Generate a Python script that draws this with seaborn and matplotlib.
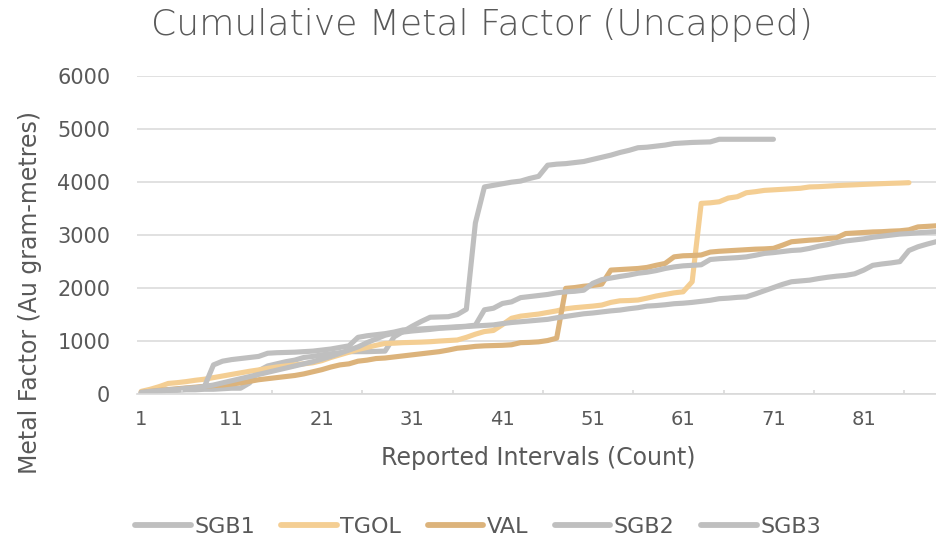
import matplotlib
matplotlib.use('Agg')
import matplotlib.pyplot as plt
import matplotlib.transforms as mtransforms
from matplotlib.lines import Line2D
import numpy as np
import pandas as pd
import seaborn as sns

# ── Data (cumulative metal factor per reported interval) ─────────────────────
series_names = ['SGB1', 'TGOL', 'VAL', 'SGB2', 'SGB3']

sgb1 = [20, 40, 50, 60, 60, 70, 70, 80, 80, 90,
        100, 100, 200, 430, 520, 560, 600, 630, 680, 700,
        730, 750, 770, 790, 790, 790, 795, 800, 1070, 1170,
        1270, 1360, 1440, 1445, 1450, 1490, 1590, 3220, 3900, 3930,
        3960, 3990, 4010, 4060, 4100, 4310, 4330, 4340, 4360, 4380,
        4420, 4460, 4500, 4550, 4590, 4640, 4650, 4670, 4690, 4720,
        4730, 4740, 4745, 4750, 4800, 4800, 4800, 4800, 4800, 4800,
        4800]

tgol = [40, 80, 130, 190, 205, 225, 250, 270, 300, 330,
        360, 390, 420, 445, 475, 500, 520, 540, 560, 580,
        620, 680, 730, 780, 830, 870, 910, 945, 950, 960,
        965, 970, 978, 990, 1000, 1010, 1060, 1120, 1170, 1190,
        1300, 1420, 1460, 1480, 1500, 1530, 1560, 1600, 1620, 1635,
        1650, 1670, 1720, 1750, 1755, 1765, 1800, 1840, 1870, 1900,
        1920, 2110, 3590, 3600, 3620, 3690, 3715, 3790, 3810, 3835,
        3845, 3855, 3865, 3875, 3900, 3905, 3915, 3925, 3933, 3940,
        3948, 3955, 3962, 3968, 3973, 3980]

val = [20, 40, 60, 75, 90, 105, 120, 135, 150, 160,
       180, 200, 230, 260, 280, 300, 320, 340, 370, 410,
       450, 500, 540, 560, 610, 630, 660, 670, 690, 710,
       730, 750, 770, 790, 820, 855, 870, 890, 900, 905,
       910, 920, 960, 965, 975, 1000, 1045, 1985, 2000, 2025,
       2040, 2065, 2330, 2340, 2350, 2360, 2380, 2420, 2455, 2580,
       2600, 2605, 2615, 2670, 2685, 2695, 2705, 2715, 2725, 2730,
       2740, 2800, 2865, 2880, 2895, 2905, 2925, 2940, 3020, 3030,
       3040, 3050, 3055, 3065, 3072, 3090, 3145, 3155, 3166, 3175]

sgb2 = [10, 30, 50, 70, 80, 100, 110, 130, 540, 610,
        640, 660, 680, 700, 760, 770, 775, 780, 790, 800,
        820, 840, 870, 900, 1060, 1090, 1110, 1130, 1160, 1200,
        1210, 1220, 1230, 1240, 1250, 1260, 1270, 1290, 1580, 1610,
        1700, 1730, 1810, 1830, 1850, 1870, 1900, 1920, 1930, 1950,
        2080, 2150, 2180, 2210, 2236, 2270, 2290, 2320, 2360, 2390,
        2410, 2420, 2430, 2530, 2545, 2555, 2565, 2580, 2610, 2645,
        2660, 2680, 2700, 2710, 2740, 2780, 2810, 2850, 2880, 2900,
        2920, 2950, 2970, 2990, 3010, 3020, 3035, 3045, 3055, 3065]

sgb3 = [20, 40, 50, 60, 70, 80, 100, 130, 160, 200,
        240, 280, 320, 360, 400, 440, 480, 520, 560, 600,
        650, 700, 760, 820, 880, 960, 1030, 1100, 1140, 1160,
        1180, 1195, 1210, 1230, 1240, 1250, 1265, 1275, 1285, 1295,
        1320, 1340, 1355, 1370, 1385, 1400, 1430, 1455, 1480, 1505,
        1520, 1540, 1560, 1575, 1600, 1620, 1650, 1660, 1675, 1695,
        1705, 1720, 1740, 1760, 1790, 1800, 1815, 1825, 1880, 1940,
        2000, 2060, 2110, 2125, 2140, 2170, 2195, 2215, 2230, 2260,
        2330, 2420, 2445, 2465, 2490, 2700, 2770, 2820, 2865, 2900]

x_tick_labels = ['1', '11', '21', '31', '41', '51', '61', '71', '81']
y_ticks = [0, 1000, 2000, 3000, 4000, 5000, 6000]

colors = {'SGB1': '#BFBFBF', 'TGOL': '#F4CE93', 'VAL': '#DCB37B',
          'SGB2': '#BFBFBF', 'SGB3': '#BFBFBF'}

# ── Long-form table for seaborn ──────────────────────────────────────────────
frames = []
for name, vals in zip(series_names, [sgb1, tgol, val, sgb2, sgb3]):
    frames.append(pd.DataFrame({'series': name,
                                'interval': np.arange(1, len(vals) + 1),
                                'metal': vals}))
df = pd.concat(frames, ignore_index=True)

# ── Plot ─────────────────────────────────────────────────────────────────────
sns.set_theme(style='white')
plt.rcParams['font.family'] = ['DejaVu Sans']
TXT = '#595959'

fig = plt.figure(figsize=(9.36, 5.39), dpi=100)
ax = fig.add_axes([136.7 / 936, 1 - 393.5 / 539, 1 - 136.7 / 936, (393.5 - 75.7) / 539])

sns.lineplot(data=df, x='interval', y='metal', hue='series', hue_order=series_names,
             palette=colors, linewidth=3.7, ax=ax, legend=False,
             solid_capstyle='round', solid_joinstyle='round')

ax.set_xlim(0.5, 89.0)
ax.set_ylim(0, 6000)
ax.set_yticks(y_ticks)
ax.set_yticklabels([str(v) for v in y_ticks], fontsize=15, color=TXT)
ax.set_xticks([int(t) for t in x_tick_labels])
ax.set_xticklabels(x_tick_labels, fontsize=14, color=TXT)
ax.set_xticks(np.arange(0.5, 89, 10), minor=True)
ax.tick_params(axis='x', which='major', length=0, pad=12)
ax.tick_params(axis='x', which='minor', length=6, width=1.2, color='#D9D9D9', direction='out')
ax.tick_params(axis='y', length=0, pad=19)
ax.grid(axis='y', color='#D9D9D9', linewidth=1.1)
ax.set_axisbelow(True)
for side in ['left', 'right', 'top']:
    ax.spines[side].set_visible(False)
ax.spines['bottom'].set_color('#D9D9D9')
ax.spines['bottom'].set_linewidth(1.2)
ax.set_xlabel('')
ax.set_ylabel('')

# small upward ticks halfway between the labelled ones
trans = mtransforms.blended_transform_factory(ax.transData, ax.transAxes)
ax.vlines(np.arange(5.5, 89, 10), 0, 0.012, transform=trans, color='#D9D9D9',
          linewidth=1.2, clip_on=False)

fig.text(482 / 936, 1 - 25 / 539, 'Cumulative Metal Factor (Uncapped)',
         ha='center', va='center', fontsize=26, color=TXT, fontweight='light')
fig.text(538 / 936, 1 - 458 / 539, 'Reported Intervals (Count)',
         ha='center', va='center', fontsize=17, color=TXT)
fig.text(30 / 936, 1 - 292 / 539, 'Metal Factor (Au gram-metres)',
         ha='center', va='center', rotation=90, fontsize=17, color=TXT)

handles = [Line2D([], [], color=colors[n], linewidth=4.2, solid_capstyle='round')
           for n in series_names]
fig.legend(handles, series_names, loc='center', ncol=5, frameon=False,
           bbox_to_anchor=(478 / 936, 1 - 527 / 539), fontsize=16,
           handlelength=2.5, handletextpad=0.15, columnspacing=1.2,
           labelcolor=TXT)

fig.savefig('out.png', dpi=100)
